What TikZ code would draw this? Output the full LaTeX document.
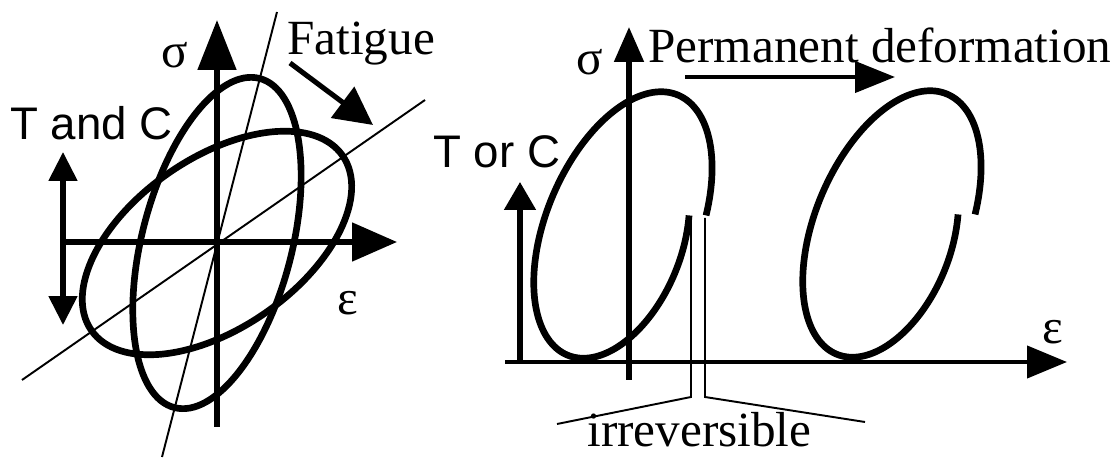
\documentclass[tikz,border=0pt]{standalone}
\usepackage{fontspec}
\setmainfont{Liberation Serif}
\setsansfont{Liberation Sans}
\usetikzlibrary{arrows.meta}

\tikzset{
  axisline/.style={line width=2.9pt},
  loopline/.style={line width=3.8pt},
  guide/.style={line width=1.1pt},
  tri/.style 2 args={-{Triangle[length=#1,width=#2]}},
  lbl/.style={font=\fontsize{28}{32}\selectfont, inner sep=0pt},
  sanslbl/.style={font=\sffamily\fontsize{26}{30}\selectfont, inner sep=0pt}
}

% open hysteresis loop, centre x / centre y
\newcommand{\hystloop}[2]{%
  \draw[loopline] plot[domain=0:360, samples=150, smooth, variable=\t]
    ({#1+55.1*cos(73-\t)+70.0*sin(73-\t)-17*(\t/360)^8},
     {#2-129.9*cos(73-\t)+29.7*sin(73-\t)});
}

\begin{document}
\begin{tikzpicture}[x=0.02cm, y=-0.02cm]

\useasboundingbox (0,0) rectangle (1117,459);

% Left: axes
\coordinate (oL) at (217,243);
\draw[axisline, tri={1cm}{0.76cm}] (217,427) -- (217,20);
\draw[axisline, tri={0.9cm}{0.76cm}] (65,242) -- (397,242);
\draw[axisline, {Triangle[length=0.58cm,width=0.56cm]}-{Triangle[length=0.58cm,width=0.56cm]}] (63,325) -- (63,152);

% Left: stiffness lines
\draw[guide] (162,457) -- (277,12);
\draw[guide] (22,380) -- (425,100);

% Left: loops
\draw[loopline, rotate around={75.5:(oL)}] (oL) ellipse [x radius=170, y radius=75];
\draw[loopline, rotate around={34.8:(oL)}] (oL) ellipse [x radius=153, y radius=85];

% Fatigue arrow
\draw[axisline, tri={0.76cm}{0.76cm}] (290,63) -- (373,125);

% Left: labels
\node[lbl] (sigL) at (175,55) {σ};
\node[lbl, anchor=base west] (fatigue) at (287,55) {Fatigue};
\node[sanslbl, anchor=base west] (tandc) at (10,140) {T and C};
\node[lbl] (epsL) at (348,303) {ε};

% Right: axes
\draw[line width=2.4pt, tri={0.8cm}{0.64cm}] (505,362) -- (1067,362);
\draw[axisline, tri={0.7cm}{0.58cm}] (629,380) -- (629,27);
\draw[axisline, tri={0.56cm}{0.62cm}] (520,362) -- (520,182);

% Permanent deformation arrow
\draw[line width=2.4pt, tri={0.8cm}{0.62cm}] (685,77) -- (895,77);

% Right: loops
\hystloop{623}{225}
\hystloop{892}{224}

% irreversible bracket
\draw[guide] (691,218) -- (691,397) -- (557,424);
\draw[guide] (705,218) -- (705,397) -- (865,422);

% Right: labels
\node[lbl] (sigR) at (590,62) {σ};
\node[lbl, anchor=base west] (permdef) at (648,63) {Permanent deformation};
\node[sanslbl, anchor=base west] (torc) at (433,168) {T or C};
\node[lbl] (epsR) at (1053,332) {ε};
\node[lbl, anchor=base west] (irrev) at (587,447) {irreversible};

\end{tikzpicture}
\end{document}
